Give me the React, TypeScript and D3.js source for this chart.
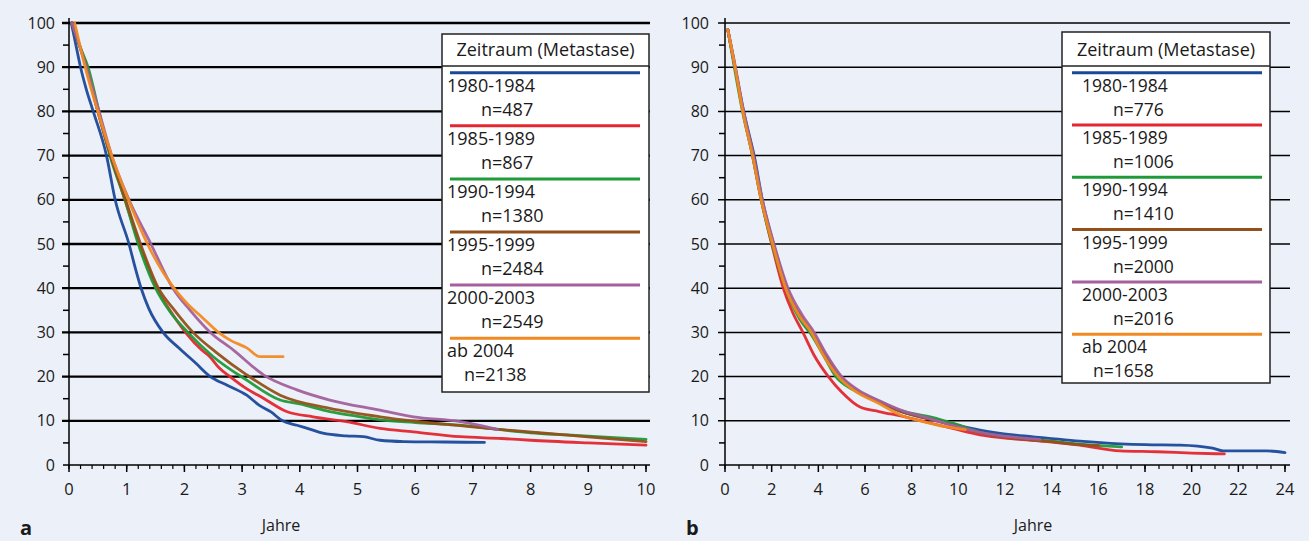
import React from 'react';
import { scaleLinear, line, range, curveMonotoneX } from 'd3';

// legend content
const periods = ['1980-1984', '1985-1989', '1990-1994', '1995-1999', '2000-2003', 'ab 2004'];
const colors = ['#1a4899', '#e3262f', '#1f9a38', '#93501a', '#a3609c', '#f18a22'];
const countsA = ['n=487', 'n=867', 'n=1380', 'n=2484', 'n=2549', 'n=2138'];
const countsB = ['n=776', 'n=1006', 'n=1410', 'n=2000', 'n=2016', 'n=1658'];

const yTicks = [0, 10, 20, 30, 40, 50, 60, 70, 80, 90, 100];
const xTicksA = [0, 1, 2, 3, 4, 5, 6, 7, 8, 9, 10];
const xTicksB = [0, 2, 4, 6, 8, 10, 12, 14, 16, 18, 20, 22, 24];

// panel a: [Jahre, % überlebend]
const a1980 = [[0.04, 100], [0.12, 95], [0.2, 90], [0.3, 85], [0.42, 80], [0.65, 70], [0.8, 60], [1.04, 50], [1.15, 44.5], [1.25, 40], [1.38, 35.5], [1.63, 30], [1.92, 26.3], [2.2, 23], [2.45, 20], [2.75, 18], [3.08, 15.8], [3.3, 13.5], [3.5, 12], [3.7, 10], [3.95, 9], [4.2, 8], [4.4, 7.2], [4.8, 6.6], [5.1, 6.4], [5.39, 5.6], [5.8, 5.3], [6.5, 5.2], [7.2, 5.1]];
const a1985 = [[0.05, 100], [0.3, 90], [0.5, 80], [0.72, 70], [0.97, 60], [1.22, 50], [1.52, 40], [1.8, 34], [2.05, 29.5], [2.3, 26], [2.44, 24.5], [2.6, 22], [2.79, 20], [3.05, 17.5], [3.37, 15.1], [3.77, 12.1], [4.23, 10.9], [4.81, 9.8], [5.39, 8.3], [5.97, 7.5], [6.78, 6.4], [7.5, 6], [8, 5.6], [9, 5], [10, 4.5]];
const a1990 = [[0.05, 100], [0.18, 95], [0.33, 90], [0.52, 80], [0.71, 70], [0.97, 60], [1.2, 50], [1.5, 40], [1.76, 34.5], [2.06, 30], [2.5, 24.5], [3.08, 19.2], [3.66, 14.7], [4, 13.8], [4.52, 12.1], [5, 11], [5.39, 10.2], [6, 9.6], [6.78, 9], [7.47, 8], [8, 7.3], [8.63, 6.8], [9.3, 6.3], [10, 5.8]];
const a1995 = [[0.05, 100], [0.3, 90], [0.5, 80], [0.72, 70], [0.98, 60], [1.24, 50], [1.55, 40], [1.83, 35], [2.15, 30], [2.55, 25.5], [3.08, 20.4], [3.66, 15.8], [4.52, 12.8], [5.39, 10.9], [6, 9.9], [6.78, 8.9], [7.5, 8], [8.6, 6.8], [9.3, 6], [10, 5.3]];
const a2000 = [[0.05, 100], [0.3, 90], [0.52, 80], [0.74, 70], [1.04, 60], [1.42, 50], [1.8, 40], [2.1, 35], [2.45, 30], [2.85, 26], [3.37, 20.4], [3.95, 17], [4.52, 14.7], [5.39, 12.4], [5.97, 10.9], [6.78, 9.8], [7.1, 9], [7.43, 8]];
const a2004 = [[0.1, 100], [0.28, 90], [0.5, 80], [0.74, 70], [1.03, 60], [1.36, 50], [1.82, 40], [2.05, 36.5], [2.3, 33.5], [2.59, 30], [2.8, 28.2], [3.08, 26.5], [3.31, 24.5], [3.71, 24.5]];

// panel b
const b1980 = [[0.12, 98.5], [0.43, 90], [0.8, 80], [1.07, 74], [1.25, 70], [1.6, 60], [2.08, 50], [2.66, 40], [3.25, 33], [3.8, 29], [4.3, 25], [4.95, 20], [5.6, 17], [6.64, 14.3], [7.6, 12], [8.79, 10.6], [9.8, 9.2], [10.93, 7.9], [12.36, 6.8], [13.79, 6.1], [15.2, 5.4], [16.93, 4.8], [18, 4.6], [19.5, 4.5], [20.9, 3.8], [21.35, 3.2], [23.2, 3.2], [24, 2.8]];
const b1985 = [[0.12, 98.5], [0.43, 90], [0.77, 80], [1.18, 70], [1.55, 60], [2, 50], [2.5, 40], [2.9, 34.5], [3.34, 30], [3.8, 25], [4.43, 20], [5, 16.5], [5.79, 13.1], [6.6, 12.1], [7.8, 10.8], [8.79, 9.5], [9.8, 8.2], [10.93, 6.8], [12.36, 5.9], [13.79, 5.3], [15.2, 4.5], [16.93, 3.2], [18.5, 3], [20, 2.7], [21.4, 2.5]];
const b1990 = [[0.12, 98.5], [0.4, 90], [0.75, 80], [1.18, 70], [1.55, 60], [2.02, 50], [2.6, 40], [3.2, 33], [3.7, 29.5], [4.2, 25], [4.75, 20], [5.5, 17], [6.64, 14.3], [7.6, 12.2], [8.79, 10.9], [9.8, 9.4], [10.93, 7.4], [12.36, 6.2], [13.79, 5.5], [15.2, 4.7], [17, 4.1]];
const b1995 = [[0.12, 98.5], [0.43, 90], [0.78, 80], [1.2, 70], [1.57, 60], [2.06, 50], [2.64, 40], [3.2, 34], [3.75, 30], [4.25, 25], [4.9, 20], [5.6, 17], [6.64, 14.2], [7.6, 12], [8.79, 10.3], [9.8, 8.9], [10.93, 7.3], [12.36, 6.1], [13.79, 5.4], [15.2, 4.6], [16, 4.4]];
const b2000 = [[0.12, 98.5], [0.45, 90], [0.8, 80], [1.22, 70], [1.6, 60], [2.1, 50], [2.7, 40], [3.3, 34], [3.82, 30], [4.35, 25], [5, 20], [5.7, 17], [6.64, 14.5], [7.6, 12.3], [8.79, 10.5], [9.8, 8.9], [10.93, 7.4], [12.36, 6.3], [13.5, 5.8]];
const b2004 = [[0.12, 98.5], [0.43, 90], [0.76, 80], [1.18, 70], [1.55, 60], [2.04, 50], [2.6, 40], [3.15, 34], [3.7, 30], [4.2, 25], [4.85, 20], [5.5, 17], [6.64, 13.8], [7.57, 11.2], [8.5, 9.8], [9.5, 8.6], [10.3, 8]];

const seriesA = [a1980, a1985, a1990, a1995, a2000, a2004];
const seriesB = [b1980, b1985, b1990, b1995, b2000, b2004];

const BG = '#ecf0f8';
const FONT = "'Open Sans', 'Noto Sans', sans-serif";
const y = scaleLinear().domain([0, 100]).range([465, 23]);

function Panel({ x, xTicks, minorStep, series, counts, gridRight, gridW, labelEnd, legend, letter, letterX, titleX }) {
  const x0 = x.range()[0];
  const path = line().x(d => x(d[0])).y(d => y(d[1])).curve(curveMonotoneX);
  const minorY = range(5, 100, 10);
  const minorX = range(0, x.domain()[1] + 0.001, minorStep);
  const L = legend;
  return (
    <g fontFamily={FONT} fill="#1a1a1a">
      {yTicks.filter(v => v > 0).map(v => (
        <line key={'g' + v} x1={x0 - 7} x2={gridRight} y1={y(v)} y2={y(v)} stroke="#000" strokeWidth={gridW} />
      ))}
      {minorY.map(v => (
        <line key={'my' + v} x1={x0 - 6} x2={x0} y1={y(v)} y2={y(v)} stroke="#000" strokeWidth={1.5} />
      ))}
      <line x1={x0} x2={x0} y1={18} y2={y(0)} stroke="#000" strokeWidth={1.5} />
      <line x1={x0 - 6} x2={gridRight} y1={y(0)} y2={y(0)} stroke="#000" strokeWidth={1.5} />
      {minorX.map(t => (
        <line key={'mx' + t} x1={x(t)} x2={x(t)} y1={y(0)} y2={y(0) + 4} stroke="#000" strokeWidth={1.2} />
      ))}
      {xTicks.map(t => (
        <line key={'tx' + t} x1={x(t)} x2={x(t)} y1={y(0)} y2={y(0) + 7} stroke="#000" strokeWidth={1.5} />
      ))}
      {yTicks.map(v => (
        <text key={'ly' + v} x={labelEnd} y={y(v)} dy="0.35em" textAnchor="end" fontSize={16}>{v}</text>
      ))}
      {xTicks.map(t => (
        <text key={'lx' + t} x={x(t)} y={495} textAnchor="middle" fontSize={16.5}>{t}</text>
      ))}
      <text x={titleX} y={531} textAnchor="middle" fontSize={16}>Jahre</text>
      <text x={letterX} y={535} fontSize={20} fontWeight="bold">{letter}</text>

      {series.map((s, i) => (
        <path key={'s' + i} d={path(s)} fill="none" stroke={colors[i]} strokeWidth={2.8} strokeLinejoin="round" strokeLinecap="round" opacity={0.95} />
      ))}

      <rect x={L.x} y={L.top} width={L.w} height={L.h} fill="#fff" stroke="#222" strokeWidth={1.5} />
      <line x1={L.x} x2={L.x + L.w} y1={66} y2={66} stroke="#222" strokeWidth={1.5} />
      <text x={L.x + L.w / 2} y={56} textAnchor="middle" fontSize={18}>Zeitraum (Metastase)</text>
      {periods.map((p, i) => {
        const ly = 72.7 + i * L.step;
        const last = i === periods.length - 1;
        return (
          <g key={p}>
            <line x1={L.lx0} x2={L.lx1} y1={ly} y2={ly} stroke={colors[i]} strokeWidth={3} />
            <text x={L.tx} y={ly + 19} fontSize={L.fs}>{p}</text>
            <text x={last ? L.nxLast : L.nx} y={ly + 43} fontSize={L.fs}>{counts[i]}</text>
          </g>
        );
      })}
    </g>
  );
}

export default function App() {
  const xA = scaleLinear().domain([0, 10]).range([69, 646]);
  const xB = scaleLinear().domain([0, 24]).range([725, 1285]);
  return (
    <svg width={1309} height={541} style={{ position: 'absolute', left: 0, top: 0, background: BG }}>
      <rect width={1309} height={541} fill={BG} />
      <Panel
        x={xA} xTicks={xTicksA} minorStep={0.2} series={seriesA} counts={countsA}
        gridRight={650} gridW={2.3} labelEnd={55} letter="a" letterX={20} titleX={281}
        legend={{ x: 442, top: 34, w: 207, h: 358, step: 53.1, lx0: 450, lx1: 640, tx: 447, nx: 481, nxLast: 464, fs: 18 }}
      />
      <Panel
        x={xB} xTicks={xTicksB} minorStep={0.6} series={seriesB} counts={countsB}
        gridRight={1290} gridW={1.5} labelEnd={709} letter="b" letterX={686} titleX={1033}
        legend={{ x: 1062, top: 32, w: 208, h: 351, step: 52.3, lx0: 1072, lx1: 1262, tx: 1082, nx: 1113, nxLast: 1093, fs: 17.5 }}
      />
    </svg>
  );
}
